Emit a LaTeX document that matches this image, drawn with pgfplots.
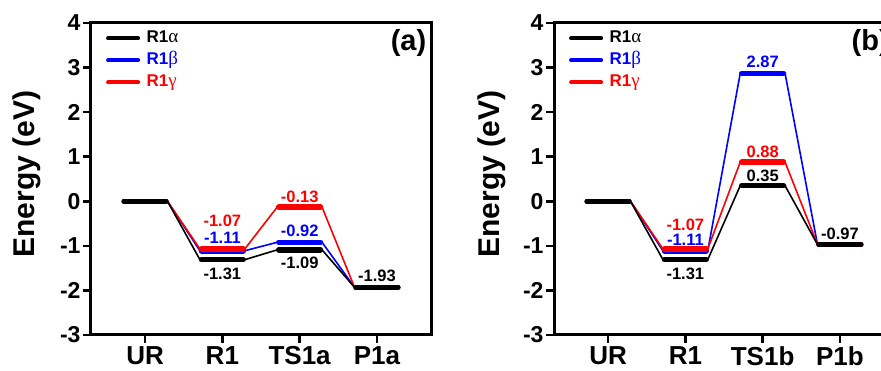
\documentclass[border=0pt]{standalone}
\usepackage{fontspec}
\setmainfont{Liberation Sans}
\newfontfamily\grk{Liberation Serif}
\usepackage{pgfplots}
\pgfplotsset{compat=1.18}
\definecolor{cblue}{RGB}{0,0,255}
\definecolor{cred}{RGB}{255,0,0}
\pgfplotsset{enstyle/.style={
  scale only axis, width=340pt, height=312pt,
  xmin=0.3, xmax=4.7, ymin=-3, ymax=4,
  xtick={1,2,3,4}, ytick={-3,-2,-1,0,1,2,3,4},
  yticklabels={-3,-2,-1,0,1,2,3,4},
  tick align=outside, xtick pos=bottom, ytick pos=left,
  major tick length=8pt,
  major tick style={line width=2.5pt, black},
  axis line style={line width=3pt},
  yticklabel style={font=\fontsize{23}{23}\selectfont\bfseries, xshift=1pt},
  xticklabel style={font=\fontsize{26}{26}\selectfont\bfseries, anchor=north, yshift=0pt, text depth=0pt},
  ylabel={Energy (eV)},
  ylabel style={font=\fontsize{30}{30}\selectfont\bfseries, anchor=base},
  legend style={draw=none, fill=none, at={(rel axis cs:0.035,0.987)}, anchor=north west,
     font=\fontsize{17}{17}\selectfont\bfseries, row sep=4pt,
     nodes={inner sep=1.5pt, text height=12pt, text depth=3pt},
     /tikz/every odd column/.append style={column sep=5pt}},
  legend image code/.code={\draw[#1, line cap=round] (0pt,0pt) -- (30pt,0pt);},
  legend cell align=left,
}}
\newcommand{\series}[5]{%
  \addplot[#1, line width=1.6pt, no marks, forget plot] coordinates {(0.71,#2) (1.29,#2) (1.71,#3) (2.29,#3) (2.71,#4) (3.29,#4) (3.71,#5) (4.29,#5)};
}
\newcommand{\bars}[5]{%
  \addplot[#1, line width=5.5pt, line cap=round, no marks, forget plot, unbounded coords=jump] coordinates {(0.73,#2) (1.27,#2) (1.5,nan) (1.73,#3) (2.27,#3) (2.5,nan) (2.73,#4) (3.27,#4) (3.5,nan) (3.73,#5) (4.27,#5)};
}
\newcommand{\legendentries}{%
  \addlegendimage{black, line width=4pt}\addlegendentry{\textcolor{black}{R1{\grk\mdseries\fontsize{19}{19}\selectfont α}}}
  \addlegendimage{cblue, line width=4pt}\addlegendentry{\textcolor{cblue}{R1{\grk\mdseries\fontsize{19}{19}\selectfont β}}}
  \addlegendimage{cred, line width=4pt}\addlegendentry{\textcolor{cred}{R1{\grk\mdseries\fontsize{19}{19}\selectfont γ}}}
}
\tikzset{dl/.style={font=\fontsize{16.5}{16.5}\selectfont\bfseries, anchor=center, inner sep=0pt}}
\begin{document}
\begin{tikzpicture}
\useasboundingbox (0pt,0pt) rectangle (881pt,371pt);
\clip (0pt,0pt) rectangle (881pt,371pt);
% ---------------- panel (a)
\begin{axis}[enstyle, at={(91pt,36pt)}, anchor=south west,
  xticklabels={UR,R1,TS1a,P1a},
  ylabel style={at={(axis description cs:-0.165,0.515)}}]
\legendentries
\series{cblue}{0}{-1.11}{-0.92}{-1.93}
\series{cred}{0}{-1.07}{-0.13}{-1.93}
\series{black}{0}{-1.31}{-1.09}{-1.93}
\bars{cblue}{0}{-1.11}{-0.92}{-1.93}
\bars{cred}{0}{-1.07}{-0.13}{-1.93}
\bars{black}{0}{-1.31}{-1.09}{-1.93}
\node[dl, text=cred] at (axis cs:2,-0.43) {-1.07};
\node[dl, text=cblue] at (axis cs:2,-0.83) {-1.11};
\node[dl, text=black] at (axis cs:2,-1.62) {-1.31};
\node[dl, text=cred] at (axis cs:3,0.11) {-0.13};
\node[dl, text=cblue] at (axis cs:3,-0.67) {-0.92};
\node[dl, text=black] at (axis cs:3,-1.39) {-1.09};
\node[dl, text=black] at (axis cs:4,-1.68) {-1.93};
\node[font=\fontsize{29}{29}\selectfont\bfseries, anchor=center] at (rel axis cs:0.934,0.936) {(a)};
\end{axis}
% ---------------- panel (b)
\begin{axis}[enstyle, at={(554pt,36pt)}, anchor=south west,
  xticklabels={UR,R1,TS1b,P1b},
  ylabel style={at={(axis description cs:-0.159,0.515)}}]
\legendentries
\series{cblue}{0}{-1.11}{2.87}{-0.97}
\series{cred}{0}{-1.07}{0.88}{-0.97}
\series{black}{0}{-1.31}{0.35}{-0.97}
\bars{cblue}{0}{-1.11}{2.87}{-0.97}
\bars{cred}{0}{-1.07}{0.88}{-0.97}
\bars{black}{0}{-1.31}{0.35}{-0.97}
\node[dl, text=cred] at (axis cs:2,-0.52) {-1.07};
\node[dl, text=cblue] at (axis cs:2,-0.875) {-1.11};
\node[dl, text=black] at (axis cs:2,-1.62) {-1.31};
\node[dl, text=cblue] at (axis cs:3,3.12) {2.87};
\node[dl, text=cred] at (axis cs:3,1.12) {0.88};
\node[dl, text=black] at (axis cs:3,0.58) {0.35};
\node[dl, text=black] at (axis cs:4,-0.72) {-0.97};
\node[font=\fontsize{29}{29}\selectfont\bfseries, anchor=center] at (rel axis cs:0.93,0.936) {(b)};
\end{axis}
\end{tikzpicture}
\end{document}
